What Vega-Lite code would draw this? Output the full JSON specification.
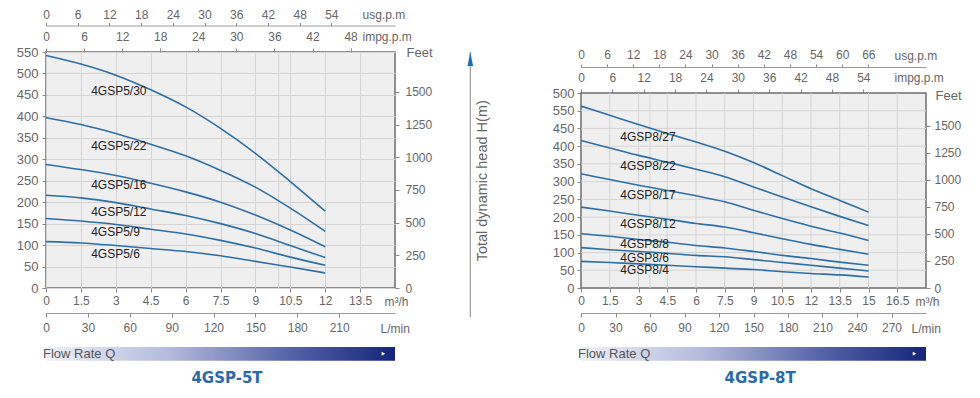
{
  "$schema": "https://vega.github.io/schema/vega-lite/v6.json",
  "padding": {"left": 15, "top": 7, "right": 0, "bottom": 0},
  "background": "white",
  "config": {
    "font": "Liberation Sans",
    "view": {"stroke": null},
    "axis": {"labelFont": "Liberation Sans", "labelColor": "#666", "labelFontSize": 12, "tickColor": "#888", "domainColor": "#9a9a9a", "titleFont": "Liberation Sans", "titleFontWeight": "normal", "titleColor": "#666", "titleFontSize": 12, "labelFlush": false, "labelOverlap": false, "gridColor": "#d5d5d5"}
  },
  "columns": 3,
  "align": "none",
  "spacing": 20,
  "concat": [
    {
      "width": 349, "height": 236,
      "view": {"fill": "#efefef", "stroke": "#6e6e6e", "strokeWidth": 1.5},
      "resolve": {"scale": {"x": "independent", "y": "independent"}},
      "layer": [
        {"data": {"values": [{"q": 10}]}, "mark": {"type": "rule", "color": "#d5d5d5", "strokeWidth": 1},
         "encoding": {"x": {"field": "q", "type": "quantitative", "scale": {"domain": [0, 15], "nice": false}, "axis": null}}},
        {
          "data": {"values": [
            {"m": "4GSP5/30", "q": 0, "h": 542}, {"m": "4GSP5/30", "q": 1.5, "h": 522}, {"m": "4GSP5/30", "q": 3, "h": 496}, {"m": "4GSP5/30", "q": 4.5, "h": 462}, {"m": "4GSP5/30", "q": 6, "h": 422}, {"m": "4GSP5/30", "q": 7.5, "h": 372}, {"m": "4GSP5/30", "q": 9, "h": 314}, {"m": "4GSP5/30", "q": 10.5, "h": 248}, {"m": "4GSP5/30", "q": 12, "h": 179},
            {"m": "4GSP5/22", "q": 0, "h": 397}, {"m": "4GSP5/22", "q": 1.5, "h": 381}, {"m": "4GSP5/22", "q": 3, "h": 360}, {"m": "4GSP5/22", "q": 4.5, "h": 335}, {"m": "4GSP5/22", "q": 6, "h": 308}, {"m": "4GSP5/22", "q": 7.5, "h": 274}, {"m": "4GSP5/22", "q": 9, "h": 235}, {"m": "4GSP5/22", "q": 10.5, "h": 186}, {"m": "4GSP5/22", "q": 12, "h": 132},
            {"m": "4GSP5/16", "q": 0, "h": 288}, {"m": "4GSP5/16", "q": 1.5, "h": 276}, {"m": "4GSP5/16", "q": 3, "h": 262}, {"m": "4GSP5/16", "q": 4.5, "h": 244}, {"m": "4GSP5/16", "q": 6, "h": 224}, {"m": "4GSP5/16", "q": 7.5, "h": 200}, {"m": "4GSP5/16", "q": 9, "h": 170}, {"m": "4GSP5/16", "q": 10.5, "h": 135}, {"m": "4GSP5/16", "q": 12, "h": 96},
            {"m": "4GSP5/12", "q": 0, "h": 216}, {"m": "4GSP5/12", "q": 1.5, "h": 210}, {"m": "4GSP5/12", "q": 3, "h": 199}, {"m": "4GSP5/12", "q": 4.5, "h": 184}, {"m": "4GSP5/12", "q": 6, "h": 169}, {"m": "4GSP5/12", "q": 7.5, "h": 150}, {"m": "4GSP5/12", "q": 9, "h": 127}, {"m": "4GSP5/12", "q": 10.5, "h": 99}, {"m": "4GSP5/12", "q": 12, "h": 71},
            {"m": "4GSP5/9", "q": 0, "h": 162}, {"m": "4GSP5/9", "q": 1.5, "h": 156}, {"m": "4GSP5/9", "q": 3, "h": 148}, {"m": "4GSP5/9", "q": 4.5, "h": 137}, {"m": "4GSP5/9", "q": 6, "h": 126}, {"m": "4GSP5/9", "q": 7.5, "h": 111}, {"m": "4GSP5/9", "q": 9, "h": 93}, {"m": "4GSP5/9", "q": 10.5, "h": 72}, {"m": "4GSP5/9", "q": 12, "h": 53},
            {"m": "4GSP5/6", "q": 0, "h": 108}, {"m": "4GSP5/6", "q": 1.5, "h": 105}, {"m": "4GSP5/6", "q": 3, "h": 99}, {"m": "4GSP5/6", "q": 4.5, "h": 92}, {"m": "4GSP5/6", "q": 6, "h": 85}, {"m": "4GSP5/6", "q": 7.5, "h": 75}, {"m": "4GSP5/6", "q": 9, "h": 62}, {"m": "4GSP5/6", "q": 10.5, "h": 49}, {"m": "4GSP5/6", "q": 12, "h": 35}
          ]},
          "mark": {"type": "line", "color": "#2f6ea5", "strokeWidth": 1.6, "interpolate": "monotone"},
          "encoding": {
            "x": {"field": "q", "type": "quantitative", "scale": {"domain": [0, 15], "nice": false},
              "axis": {"orient": "bottom", "values": [0, 1.5, 3, 4.5, 6, 7.5, 9, 10.5, 12, 13.5], "format": ".3~g", "grid": true, "domain": false, "tickSize": 4, "labelPadding": 3, "title": "m³/h", "titleX": 338, "titleY": 13, "titleAlign": "left", "titleBaseline": "middle"}},
            "y": {"field": "h", "type": "quantitative", "scale": {"domain": [0, 550], "nice": false},
              "axis": {"orient": "left", "values": [0, 50, 100, 150, 200, 250, 300, 350, 400, 450, 500, 550], "grid": true, "domain": false, "tickSize": 4, "labelPadding": 4, "labelFontSize": 13, "title": null}},
            "detail": {"field": "m"}
          }
        },
        {
          "data": {"values": [
            {"m": "4GSP5/30", "q": 1.94, "h": 458}, {"m": "4GSP5/22", "q": 1.94, "h": 332}, {"m": "4GSP5/16", "q": 1.94, "h": 241}, {"m": "4GSP5/12", "q": 1.94, "h": 177}, {"m": "4GSP5/9", "q": 1.94, "h": 130.5}, {"m": "4GSP5/6", "q": 1.94, "h": 80}
          ]},
          "mark": {"type": "text", "align": "left", "baseline": "middle", "fontSize": 12, "color": "#222"},
          "encoding": {"x": {"field": "q", "type": "quantitative", "scale": {"domain": [0, 15], "nice": false}, "axis": null}, "y": {"field": "h", "type": "quantitative", "scale": {"domain": [0, 550], "nice": false}, "axis": null}, "text": {"field": "m"}}
        },
        {
          "data": {"values": [{"lpm": 0}, {"lpm": 250}]},
          "mark": {"type": "point", "opacity": 0},
          "encoding": {"y": {"datum": 0, "type": "quantitative", "scale": {"domain": [0, 1]}, "axis": null},
            "x": {"field": "lpm", "type": "quantitative", "scale": {"domain": [0, 250], "nice": false},
            "axis": {"orient": "bottom", "offset": 25, "values": [0, 30, 60, 90, 120, 150, 180, 210], "grid": false, "domain": true, "tickSize": 4, "labelPadding": 5, "title": "L/min", "titleX": 334, "titleY": 15, "titleAlign": "left", "titleBaseline": "middle"}}}
        },
        {
          "data": {"values": [{"usg": 0}, {"usg": 66.04}]},
          "mark": {"type": "point", "opacity": 0},
          "encoding": {"y": {"datum": 0, "type": "quantitative", "scale": {"domain": [0, 1]}, "axis": null},
            "x": {"field": "usg", "type": "quantitative", "scale": {"domain": [0, 66.04], "nice": false},
            "axis": {"orient": "top", "offset": 26.5, "values": [0, 6, 12, 18, 24, 30, 36, 42, 48, 54], "grid": false, "domain": true, "tickSize": 3, "labelPadding": 1, "title": "usg.p.m", "titleX": 316, "titleY": -11, "titleAlign": "left", "titleBaseline": "middle"}}}
        },
        {
          "data": {"values": [{"imp": 0}, {"imp": 55.0}]},
          "mark": {"type": "point", "opacity": 0},
          "encoding": {"y": {"datum": 0, "type": "quantitative", "scale": {"domain": [0, 1]}, "axis": null},
            "x": {"field": "imp", "type": "quantitative", "scale": {"domain": [0, 55.0], "nice": false},
            "axis": {"orient": "top", "offset": 0, "values": [0, 6, 12, 18, 24, 30, 36, 42, 48], "grid": false, "domain": false, "tickSize": 4, "labelPadding": 4.5, "title": "impg.p.m", "titleX": 316, "titleY": -16, "titleAlign": "left", "titleBaseline": "middle"}}}
        },
        {
          "data": {"values": [{"ft": 0}, {"ft": 1804.5}]},
          "mark": {"type": "point", "opacity": 0},
          "encoding": {"x": {"datum": 0, "type": "quantitative", "scale": {"domain": [0, 1]}, "axis": null},
            "y": {"field": "ft", "type": "quantitative", "scale": {"domain": [0, 1804.5], "nice": false},
            "axis": {"orient": "right", "values": [0, 250, 500, 750, 1000, 1250, 1500], "format": "d", "grid": false, "domain": false, "tickSize": 4, "labelPadding": 6, "title": "Feet", "titleAngle": 0, "titleX": 11, "titleY": 0, "titleAlign": "left", "titleBaseline": "middle", "titleFontSize": 13}}}
        },
        {
          "data": {"values": [{"caption": "Flow Rate Q"}]},
          "mark": {"type": "rect", "color": {"gradient": "linear", "x1": 0, "x2": 1, "y1": 0, "y2": 0, "stops": [{"offset": 0, "color": "#eef0f7"}, {"offset": 0.35, "color": "#b4bbdc"}, {"offset": 0.7, "color": "#5562a8"}, {"offset": 1, "color": "#16257a"}]}},
          "encoding": {"x": {"datum": 0, "type": "quantitative", "scale": {"domain": [0, 15], "nice": false}, "axis": null}, "x2": {"datum": 15},
                       "y": {"datum": -0.25, "type": "quantitative", "scale": {"domain": [0, 1], "nice": false, "zero": false}, "axis": null}, "y2": {"datum": -0.308}}
        },
        {
          "data": {"values": [{"caption": "Flow Rate Q"}]},
          "mark": {"type": "text", "align": "left", "baseline": "middle", "fontSize": 13, "color": "#555", "dx": -3},
          "encoding": {"x": {"datum": 0, "type": "quantitative", "scale": {"domain": [0, 15], "nice": false}, "axis": null},
                       "y": {"datum": -0.279, "type": "quantitative", "scale": {"domain": [0, 1], "nice": false, "zero": false}, "axis": null}, "text": {"field": "caption"}}
        },
        {
          "data": {"values": [{"caption": "Flow Rate Q"}]},
          "mark": {"type": "point", "shape": "triangle-right", "filled": true, "color": "white", "size": 16, "opacity": 1},
          "encoding": {"x": {"datum": 14.5, "type": "quantitative", "scale": {"domain": [0, 15], "nice": false}, "axis": null},
                       "y": {"datum": -0.279, "type": "quantitative", "scale": {"domain": [0, 1], "nice": false, "zero": false}, "axis": null}}
        },
        {
          "data": {"values": [{"name": "4GSP-5T"}]},
          "mark": {"type": "text", "align": "center", "baseline": "middle", "font": "DejaVu Sans", "fontSize": 15, "fontWeight": "bold", "color": "#2b69a8"},
          "encoding": {"x": {"datum": 7.78, "type": "quantitative", "scale": {"domain": [0, 15], "nice": false}, "axis": null},
                       "y": {"datum": -0.381, "type": "quantitative", "scale": {"domain": [0, 1], "nice": false, "zero": false}, "axis": null}, "text": {"field": "name"}}
        }
      ]
    },
    {
      "width": 79, "height": 265,
      "data": {"values": [{"label": "Total dynamic head H(m)"}]},
      "layer": [
        {"mark": {"type": "rule", "color": "#9a9a9a", "strokeWidth": 1.2},
         "encoding": {"x": {"datum": 0.219, "type": "quantitative", "scale": {"domain": [0, 1], "nice": false}, "axis": null},
                      "y": {"datum": 0, "type": "quantitative", "scale": {"domain": [0, 1], "nice": false}, "axis": null},
                      "y2": {"datum": 1.0}}},
        {"mark": {"type": "point", "shape": "M0,-1L0.4,1L-0.4,1Z", "filled": true, "color": "#1f6fae", "size": 196, "opacity": 1, "yOffset": 7},
         "encoding": {"x": {"datum": 0.219, "type": "quantitative"}, "y": {"datum": 1.0, "type": "quantitative"}}},
        {"mark": {"type": "text", "angle": 270, "fontSize": 14.5, "color": "#666", "align": "center", "baseline": "middle"},
         "encoding": {"x": {"datum": 0.377, "type": "quantitative"}, "y": {"datum": 0.514, "type": "quantitative"}, "text": {"field": "label"}}}
      ]
    },
    {
      "width": 345, "height": 236,
      "resolve": {"scale": {"x": "independent", "y": "independent"}},
      "layer": [
        {"data": {"values": [{"panel": "4GSP-8T"}]}, "mark": {"type": "rect", "fill": "#efefef", "stroke": "#6e6e6e", "strokeWidth": 1.5},
         "encoding": {"x": {"datum": 0, "type": "quantitative", "scale": {"domain": [0, 18], "nice": false}, "axis": null}, "x2": {"datum": 18},
                      "y": {"datum": 0, "type": "quantitative", "scale": {"domain": [0, 550], "nice": false, "range": [236, 41]}, "axis": null}, "y2": {"datum": 550}}},
        {"data": {"values": [{"g": 1.5}, {"g": 3}, {"g": 3.6}, {"g": 4.5}, {"g": 6}, {"g": 7.5}, {"g": 9}, {"g": 10.5}, {"g": 12}, {"g": 13.5}, {"g": 15}, {"g": 16.5}]},
         "mark": {"type": "rule", "color": "#d5d5d5", "strokeWidth": 1},
         "encoding": {"x": {"field": "g", "type": "quantitative", "scale": {"domain": [0, 18], "nice": false}, "axis": null},
                      "y": {"datum": 0, "type": "quantitative", "scale": {"domain": [0, 550], "nice": false, "range": [236, 41]}, "axis": null}, "y2": {"datum": 550}}},
        {"data": {"values": [{"g": 50}, {"g": 100}, {"g": 150}, {"g": 200}, {"g": 250}, {"g": 300}, {"g": 350}, {"g": 400}, {"g": 450}, {"g": 500}]},
         "mark": {"type": "rule", "color": "#d5d5d5", "strokeWidth": 1},
         "encoding": {"y": {"field": "g", "type": "quantitative", "scale": {"domain": [0, 550], "nice": false, "range": [236, 41]}, "axis": null},
                      "x": {"datum": 0, "type": "quantitative", "scale": {"domain": [0, 18], "nice": false}, "axis": null}, "x2": {"datum": 18}}},
        {
          "data": {"values": [
            {"m": "4GSP8/27", "q": 0, "h": 513}, {"m": "4GSP8/27", "q": 1.5, "h": 487}, {"m": "4GSP8/27", "q": 3, "h": 461}, {"m": "4GSP8/27", "q": 4.5, "h": 436}, {"m": "4GSP8/27", "q": 6, "h": 412}, {"m": "4GSP8/27", "q": 7.5, "h": 386}, {"m": "4GSP8/27", "q": 9, "h": 354}, {"m": "4GSP8/27", "q": 10.5, "h": 317}, {"m": "4GSP8/27", "q": 12, "h": 280}, {"m": "4GSP8/27", "q": 13.5, "h": 247}, {"m": "4GSP8/27", "q": 15, "h": 214},
            {"m": "4GSP8/22", "q": 0, "h": 416}, {"m": "4GSP8/22", "q": 1.5, "h": 395}, {"m": "4GSP8/22", "q": 3, "h": 374}, {"m": "4GSP8/22", "q": 4.5, "h": 355}, {"m": "4GSP8/22", "q": 6, "h": 335}, {"m": "4GSP8/22", "q": 7.5, "h": 314}, {"m": "4GSP8/22", "q": 9, "h": 285}, {"m": "4GSP8/22", "q": 10.5, "h": 257}, {"m": "4GSP8/22", "q": 12, "h": 229}, {"m": "4GSP8/22", "q": 13.5, "h": 202}, {"m": "4GSP8/22", "q": 15, "h": 176},
            {"m": "4GSP8/17", "q": 0, "h": 322}, {"m": "4GSP8/17", "q": 1.5, "h": 306}, {"m": "4GSP8/17", "q": 3, "h": 290}, {"m": "4GSP8/17", "q": 4.5, "h": 275}, {"m": "4GSP8/17", "q": 6, "h": 260}, {"m": "4GSP8/17", "q": 7.5, "h": 243}, {"m": "4GSP8/17", "q": 9, "h": 219}, {"m": "4GSP8/17", "q": 10.5, "h": 196}, {"m": "4GSP8/17", "q": 12, "h": 174}, {"m": "4GSP8/17", "q": 13.5, "h": 155}, {"m": "4GSP8/17", "q": 15, "h": 134},
            {"m": "4GSP8/12", "q": 0, "h": 228}, {"m": "4GSP8/12", "q": 1.5, "h": 217}, {"m": "4GSP8/12", "q": 3, "h": 205}, {"m": "4GSP8/12", "q": 4.5, "h": 194}, {"m": "4GSP8/12", "q": 6, "h": 182}, {"m": "4GSP8/12", "q": 7.5, "h": 172}, {"m": "4GSP8/12", "q": 9, "h": 156}, {"m": "4GSP8/12", "q": 10.5, "h": 139}, {"m": "4GSP8/12", "q": 12, "h": 123}, {"m": "4GSP8/12", "q": 13.5, "h": 109}, {"m": "4GSP8/12", "q": 15, "h": 95},
            {"m": "4GSP8/8", "q": 0, "h": 153}, {"m": "4GSP8/8", "q": 1.5, "h": 146}, {"m": "4GSP8/8", "q": 3, "h": 137}, {"m": "4GSP8/8", "q": 4.5, "h": 129}, {"m": "4GSP8/8", "q": 6, "h": 120}, {"m": "4GSP8/8", "q": 7.5, "h": 113}, {"m": "4GSP8/8", "q": 9, "h": 103}, {"m": "4GSP8/8", "q": 10.5, "h": 92}, {"m": "4GSP8/8", "q": 12, "h": 83}, {"m": "4GSP8/8", "q": 13.5, "h": 73}, {"m": "4GSP8/8", "q": 15, "h": 64},
            {"m": "4GSP8/6", "q": 0, "h": 114}, {"m": "4GSP8/6", "q": 1.5, "h": 108}, {"m": "4GSP8/6", "q": 3, "h": 103}, {"m": "4GSP8/6", "q": 4.5, "h": 98}, {"m": "4GSP8/6", "q": 6, "h": 92}, {"m": "4GSP8/6", "q": 7.5, "h": 88}, {"m": "4GSP8/6", "q": 9, "h": 80}, {"m": "4GSP8/6", "q": 10.5, "h": 72}, {"m": "4GSP8/6", "q": 12, "h": 64}, {"m": "4GSP8/6", "q": 13.5, "h": 56}, {"m": "4GSP8/6", "q": 15, "h": 48},
            {"m": "4GSP8/4", "q": 0, "h": 75}, {"m": "4GSP8/4", "q": 1.5, "h": 72}, {"m": "4GSP8/4", "q": 3, "h": 68}, {"m": "4GSP8/4", "q": 4.5, "h": 64}, {"m": "4GSP8/4", "q": 6, "h": 60}, {"m": "4GSP8/4", "q": 7.5, "h": 56}, {"m": "4GSP8/4", "q": 9, "h": 52}, {"m": "4GSP8/4", "q": 10.5, "h": 46}, {"m": "4GSP8/4", "q": 12, "h": 41}, {"m": "4GSP8/4", "q": 13.5, "h": 37}, {"m": "4GSP8/4", "q": 15, "h": 31}
          ]},
          "mark": {"type": "line", "color": "#2f6ea5", "strokeWidth": 1.6, "interpolate": "monotone"},
          "encoding": {
            "x": {"field": "q", "type": "quantitative", "scale": {"domain": [0, 18], "nice": false},
              "axis": {"orient": "bottom", "values": [0, 1.5, 3, 4.5, 6, 7.5, 9, 10.5, 12, 13.5, 15, 16.5], "format": ".3~g", "grid": false, "domain": false, "tickSize": 4, "labelPadding": 3, "title": "m³/h", "titleX": 334, "titleY": 13, "titleAlign": "left", "titleBaseline": "middle"}},
            "y": {"field": "h", "type": "quantitative", "scale": {"domain": [0, 550], "nice": false, "range": [236, 41]},
              "axis": {"orient": "left", "values": [0, 50, 100, 150, 200, 250, 300, 350, 400, 450, 500, 550], "labelExpr": "datum.value == 550 ? '500' : datum.value == 500 ? '550' : datum.label", "grid": false, "domain": false, "tickSize": 4, "labelPadding": 3, "labelFontSize": 13, "title": null}},
            "detail": {"field": "m"}
          }
        },
        {
          "data": {"values": [
            {"m": "4GSP8/27", "q": 2.05, "h": 426}, {"m": "4GSP8/22", "q": 2.05, "h": 343}, {"m": "4GSP8/17", "q": 2.05, "h": 263}, {"m": "4GSP8/12", "q": 2.05, "h": 181}, {"m": "4GSP8/8", "q": 2.05, "h": 123}, {"m": "4GSP8/6", "q": 2.05, "h": 85.5}, {"m": "4GSP8/4", "q": 2.05, "h": 49.6}
          ]},
          "mark": {"type": "text", "align": "left", "baseline": "middle", "fontSize": 12, "color": "#222"},
          "encoding": {"x": {"field": "q", "type": "quantitative", "scale": {"domain": [0, 18], "nice": false}, "axis": null}, "y": {"field": "h", "type": "quantitative", "scale": {"domain": [0, 550], "nice": false, "range": [236, 41]}, "axis": null}, "text": {"field": "m"}}
        },
        {
          "data": {"values": [{"lpm": 0}, {"lpm": 300}]},
          "mark": {"type": "point", "opacity": 0},
          "encoding": {"y": {"datum": 0, "type": "quantitative", "scale": {"domain": [0, 1]}, "axis": null},
            "x": {"field": "lpm", "type": "quantitative", "scale": {"domain": [0, 300], "nice": false},
            "axis": {"orient": "bottom", "offset": 25, "values": [0, 30, 60, 90, 120, 150, 180, 210, 240, 270], "grid": false, "domain": true, "tickSize": 4, "labelPadding": 5, "title": "L/min", "titleX": 330, "titleY": 15, "titleAlign": "left", "titleBaseline": "middle"}}}
        },
        {
          "data": {"values": [{"usg": 0}, {"usg": 79.25}]},
          "mark": {"type": "point", "opacity": 0},
          "encoding": {"y": {"datum": 0, "type": "quantitative", "scale": {"domain": [0, 1]}, "axis": null},
            "x": {"field": "usg", "type": "quantitative", "scale": {"domain": [0, 79.25], "nice": false},
            "axis": {"orient": "top", "offset": -15, "values": [0, 6, 12, 18, 24, 30, 36, 42, 48, 54, 60, 66], "grid": false, "domain": true, "tickSize": 3, "labelPadding": 3, "title": "usg.p.m", "titleX": 313, "titleY": -12, "titleAlign": "left", "titleBaseline": "middle"}}}
        },
        {
          "data": {"values": [{"imp": 0}, {"imp": 65.99}]},
          "mark": {"type": "point", "opacity": 0},
          "encoding": {"y": {"datum": 0, "type": "quantitative", "scale": {"domain": [0, 1]}, "axis": null},
            "x": {"field": "imp", "type": "quantitative", "scale": {"domain": [0, 65.99], "nice": false},
            "axis": {"orient": "top", "offset": -41, "values": [0, 6, 12, 18, 24, 30, 36, 42, 48, 54], "grid": false, "domain": false, "tickSize": 4, "labelPadding": 4.5, "title": "impg.p.m", "titleX": 313, "titleY": -16, "titleAlign": "left", "titleBaseline": "middle"}}}
        },
        {
          "data": {"values": [{"ft": 0}, {"ft": 1804.5}]},
          "mark": {"type": "point", "opacity": 0},
          "encoding": {"x": {"datum": 0, "type": "quantitative", "scale": {"domain": [0, 1]}, "axis": null},
            "y": {"field": "ft", "type": "quantitative", "scale": {"domain": [0, 1804.5], "nice": false, "range": [236, 41]},
            "axis": {"orient": "right", "values": [0, 250, 500, 750, 1000, 1250, 1500], "format": "d", "grid": false, "domain": false, "tickSize": 4, "labelPadding": 4, "title": "Feet", "titleAngle": 0, "titleX": 9, "titleY": 43, "titleAlign": "left", "titleBaseline": "middle", "titleFontSize": 13}}}
        },
        {
          "data": {"values": [{"caption": "Flow Rate Q"}]},
          "mark": {"type": "rect", "color": {"gradient": "linear", "x1": 0, "x2": 1, "y1": 0, "y2": 0, "stops": [{"offset": 0, "color": "#eef0f7"}, {"offset": 0.35, "color": "#b4bbdc"}, {"offset": 0.7, "color": "#5562a8"}, {"offset": 1, "color": "#16257a"}]}},
          "encoding": {"x": {"datum": 0, "type": "quantitative", "scale": {"domain": [0, 18], "nice": false}, "axis": null}, "x2": {"datum": 18},
                       "y": {"datum": -0.3026, "type": "quantitative", "scale": {"domain": [0, 1], "nice": false, "zero": false, "range": [236, 41]}, "axis": null}, "y2": {"datum": -0.3728}}
        },
        {
          "data": {"values": [{"caption": "Flow Rate Q"}]},
          "mark": {"type": "text", "align": "left", "baseline": "middle", "fontSize": 13, "color": "#555", "dx": -3},
          "encoding": {"x": {"datum": 0, "type": "quantitative", "scale": {"domain": [0, 18], "nice": false}, "axis": null},
                       "y": {"datum": -0.3377, "type": "quantitative", "scale": {"domain": [0, 1], "nice": false, "zero": false, "range": [236, 41]}, "axis": null}, "text": {"field": "caption"}}
        },
        {
          "data": {"values": [{"caption": "Flow Rate Q"}]},
          "mark": {"type": "point", "shape": "triangle-right", "filled": true, "color": "white", "size": 16, "opacity": 1},
          "encoding": {"x": {"datum": 17.4, "type": "quantitative", "scale": {"domain": [0, 18], "nice": false}, "axis": null},
                       "y": {"datum": -0.3377, "type": "quantitative", "scale": {"domain": [0, 1], "nice": false, "zero": false, "range": [236, 41]}, "axis": null}}
        },
        {
          "data": {"values": [{"name": "4GSP-8T"}]},
          "mark": {"type": "text", "align": "center", "baseline": "middle", "font": "DejaVu Sans", "fontSize": 15, "fontWeight": "bold", "color": "#2b69a8"},
          "encoding": {"x": {"datum": 9.35, "type": "quantitative", "scale": {"domain": [0, 18], "nice": false}, "axis": null},
                       "y": {"datum": -0.4631, "type": "quantitative", "scale": {"domain": [0, 1], "nice": false, "zero": false, "range": [236, 41]}, "axis": null}, "text": {"field": "name"}}
        }
      ]
    }
  ]
}
